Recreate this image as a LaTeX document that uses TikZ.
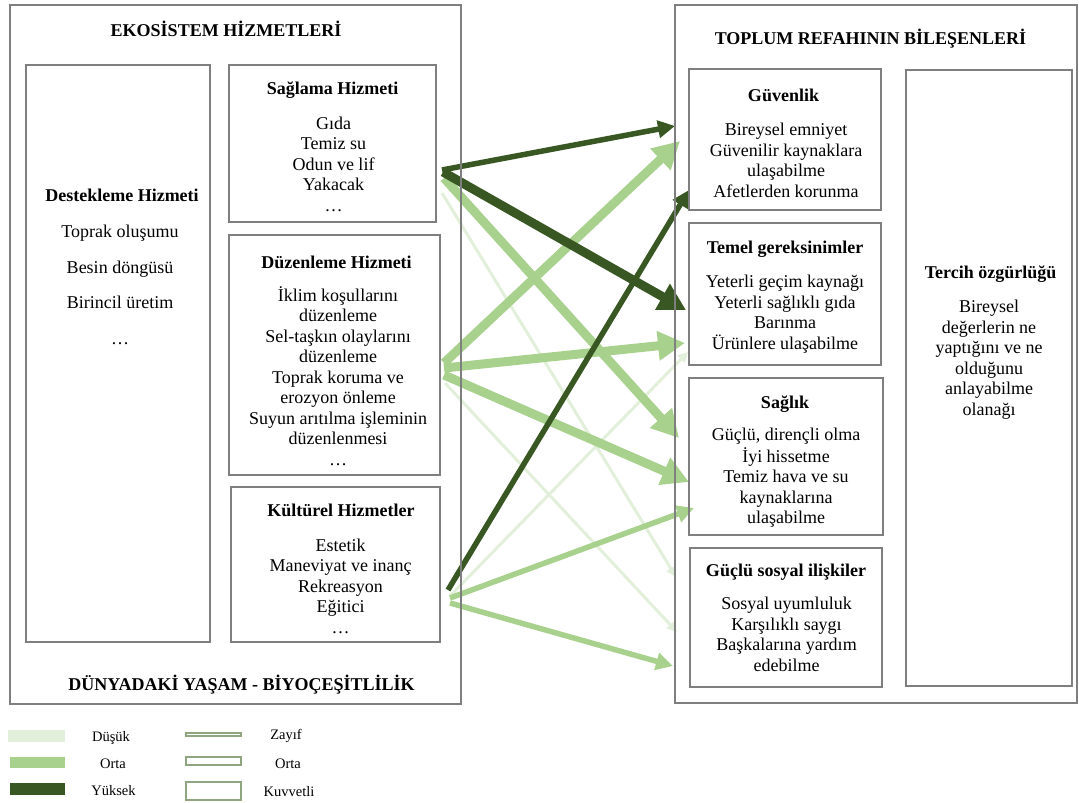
\documentclass[tikz,border=0pt]{standalone}
\usepackage{fontspec}
\setmainfont{Liberation Serif}
\usetikzlibrary{arrows.meta}
\definecolor{gbox}{HTML}{7F7F7F}
\definecolor{lowc}{HTML}{E2EFDA}
\definecolor{midc}{HTML}{A9D18E}
\definecolor{highc}{HTML}{385723}
\definecolor{legb}{HTML}{8EA57F}
\pgfdeclarelayer{bg}
\pgfsetlayers{bg,main}
\begin{document}
\begin{tikzpicture}[x=1pt,y=-1pt,
  box/.style={draw=gbox,line width=1.5pt,inner sep=0pt,rectangle},
  ttl/.style={font=\fontsize{18}{20.5}\selectfont\bfseries,inner sep=0pt},
  hd/.style={font=\fontsize{18}{20.5}\selectfont\bfseries\strut,inner sep=0pt},
  bd/.style={font=\fontsize{18}{20.5}\selectfont,align=center,inner sep=0pt},
  bdw/.style={font=\fontsize{18}{35.5}\selectfont,align=center,inner sep=0pt},
  lg/.style={font=\fontsize{14.5}{17}\selectfont,inner sep=0pt},
  legfill/.style={draw=none,inner sep=0pt,rectangle},
  legline/.style={draw=legb,line width=2pt,inner sep=0pt,rectangle,minimum width=55pt},
  cLo/.style={draw=lowc,fill=lowc},
  cMid/.style={draw=midc,fill=midc},
  cHi/.style={draw=highc,fill=highc},
  wZ/.style={line width=3pt,-{Triangle[length=10pt,width=10pt]}},
  wO/.style={line width=5.5pt,-{Triangle[length=17pt,width=17pt]}},
  wK/.style={line width=9pt,-{Triangle[length=27pt,width=28pt]}},
]
\useasboundingbox (0,0) rectangle (1079,803);

% ---------- boxes ----------
\node[box,minimum width=451pt,minimum height=699pt] (outL) at (235.5,354.5) {};
\node[box,minimum width=184pt,minimum height=577pt] (dest) at (118,353.5) {};
\node[box,minimum width=207pt,minimum height=157pt] (sagl) at (332.5,143.5) {};
\node[box,minimum width=211pt,minimum height=240pt] (duz) at (334.5,355) {};
\node[box,minimum width=209pt,minimum height=155pt] (kul) at (335.5,564.5) {};
\node[box,minimum width=402pt,minimum height=698pt] (outR) at (876,354) {};
\node[box,minimum width=192pt,minimum height=141pt] (guv) at (785,139.5) {};
\node[box,minimum width=192pt,minimum height=142pt] (tem) at (785,294) {};
\node[box,minimum width=194pt,minimum height=157pt] (sglk) at (786,456.5) {};
\node[box,minimum width=192pt,minimum height=139pt] (sos) at (786,617.5) {};
\node[box,minimum width=166pt,minimum height=616pt] (ter) at (989,378) {};

% ---------- titles ----------
\node[ttl] (t1) at (226,29) {EKOSİSTEM HİZMETLERİ};
\node[ttl] (t2) at (870.5,39) {TOPLUM REFAHININ BİLEŞENLERİ};
\node[ttl] (t3) at (241.5,685) {DÜNYADAKİ YAŞAM - BİYOÇEŞİTLİLİK};

% ---------- left texts ----------
\node[hd] (dest-h) at (122,197) {Destekleme Hizmeti};
\node[bdw] (dest-b) at (120,284) {\strut Toprak oluşumu\\Besin döngüsü\\Birincil üretim\\…\strut};

\node[hd] (sagl-h) at (332.5,90) {Sağlama Hizmeti};
\node[bd] (sagl-b) at (333.5,166) {\strut Gıda\\Temiz su\\Odun ve lif\\Yakacak\\…\strut};

\node[hd] (duz-h) at (336.5,264) {Düzenleme Hizmeti};
\node[bd] (duz-b) at (338,379) {\strut İklim koşullarını\\düzenleme\\Sel-taşkın olaylarını\\düzenleme\\Toprak koruma ve\\erozyon önleme\\Suyun arıtılma işleminin\\düzenlenmesi\\…\strut};

\node[hd] (kul-h) at (341,512) {Kültürel Hizmetler};
\node[bd] (kul-b) at (340.5,588) {\strut Estetik\\Maneviyat ve inanç\\Rekreasyon\\Eğitici\\…\strut};

% ---------- right texts ----------
\node[hd] (guv-h) at (783.5,97) {Güvenlik};
\node[bd] (guv-b) at (786,162.5) {\strut Bireysel emniyet\\Güvenilir kaynaklara\\ulaşabilme\\Afetlerden korunma\strut};

\node[hd] (tem-h) at (785,249) {Temel gereksinimler};
\node[bd] (tem-b) at (785,314.5) {\strut Yeterli geçim kaynağı\\Yeterli sağlıklı gıda\\Barınma\\Ürünlere ulaşabilme\strut};

\node[hd] (sglk-h) at (785,404) {Sağlık};
\node[bd] (sglk-b) at (786,478) {\strut Güçlü, dirençli olma\\İyi hissetme\\Temiz hava ve su\\kaynaklarına\\ulaşabilme\strut};

\node[hd] (sos-h) at (786,572) {Güçlü sosyal ilişkiler};
\node[bd] (sos-b) at (786.5,636.5) {\strut Sosyal uyumluluk\\Karşılıklı saygı\\Başkalarına yardım\\edebilme\strut};

\node[hd] (ter-h) at (990.5,274) {Tercih özgürlüğü};
\node[bd] (ter-b) at (989,360) {\strut Bireysel\\değerlerin ne\\yaptığını ve ne\\olduğunu\\anlayabilme\\olanağı\strut};

% ---------- arrow end points ----------
\coordinate (a1s) at (442,170);  \coordinate (a1e) at (675,126);
\coordinate (a2s) at (443,172);  \coordinate (a2e) at (686,310);
\coordinate (a3s) at (444,178);  \coordinate (a3e) at (679,438);
\coordinate (a4s) at (442,193);  \coordinate (a4e) at (676,577);
\coordinate (a5s) at (444,363);  \coordinate (a5e) at (680,141);
\coordinate (a6s) at (444,368);  \coordinate (a6e) at (685,343);
\coordinate (a7s) at (444,375);  \coordinate (a7e) at (689,482);
\coordinate (a8s) at (445,383);  \coordinate (a8e) at (677,632);
\coordinate (a9s) at (448,590);  \coordinate (a9e) at (689,190);
\coordinate (a10s) at (450,596); \coordinate (a10e) at (688,352);
\coordinate (a11s) at (450,598); \coordinate (a11e) at (694,508);
\coordinate (a12s) at (450,603); \coordinate (a12e) at (673,666);

\begin{pgfonlayer}{bg}
  % low
  \draw[cLo,wZ] (a4s) -- (a4e);
  \draw[cLo,wZ] (a8s) -- (a8e);
  \draw[cLo,wZ] (a10s) -- (a10e);
  % medium
  \draw[cMid,wO] (a11s) -- (a11e);
  \draw[cMid,wO] (a12s) -- (a12e);
  \draw[cMid,wK] (a3s) -- (a3e);
  \draw[cMid,wK] (a5s) -- (a5e);
  \draw[cMid,wK] (a6s) -- (a6e);
  \draw[cMid,wK] (a7s) -- (a7e);
  % high
  \draw[cHi,wO] (a1s) -- (a1e);
  \draw[cHi,wK] (a2s) -- (a2e);
  \draw[cHi,wO] (a9s) -- (a9e);
\end{pgfonlayer}

% ---------- legend ----------
\node[legfill,fill=lowc,minimum width=57pt,minimum height=12pt] (lf1) at (36.5,736) {};
\node[legfill,fill=midc,minimum width=55pt,minimum height=11pt] (lf2) at (37.5,762.5) {};
\node[legfill,fill=highc,minimum width=55pt,minimum height=12pt] (lf3) at (37.5,789) {};
\node[lg] (lt1) at (111,738) {Düşük};
\node[lg] (lt2) at (113,764) {Orta};
\node[lg] (lt3) at (113.5,791) {Yüksek};

\node[legline,minimum height=3pt] (ll1) at (213.5,734.5) {};
\node[legline,minimum height=8pt] (ll2) at (213.5,761) {};
\node[legline,minimum height=18pt] (ll3) at (213.5,790.5) {};
\node[lg] (lu1) at (286,736) {Zayıf};
\node[lg] (lu2) at (288,764) {Orta};
\node[lg] (lu3) at (289,792) {Kuvvetli};
\end{tikzpicture}
\end{document}
